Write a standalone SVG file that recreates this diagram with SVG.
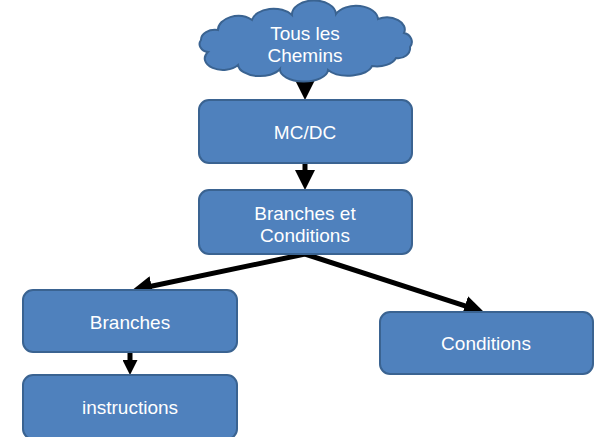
<svg xmlns="http://www.w3.org/2000/svg" width="601" height="437" viewBox="0 0 601 437">
<defs>
<style>
.box{fill:#4F81BD;stroke:#3A6391;stroke-width:2}
.t{font-family:"Liberation Sans",Arial,sans-serif;font-size:19px;fill:#fff;text-anchor:middle}
.c{stroke:#000;stroke-width:5;fill:none}
</style>
<marker id="ah" markerUnits="userSpaceOnUse" markerWidth="20" markerHeight="20" refX="9" refY="10" orient="auto"><path d="M0,0 L20,10 L0,20 Z" fill="#000"/></marker>
<marker id="ahs" markerUnits="userSpaceOnUse" markerWidth="15" markerHeight="15" refX="6" refY="7.5" orient="auto"><path d="M0,0 L15,7.5 L0,15 Z" fill="#000"/></marker>
</defs>
<rect width="601" height="437" fill="#fff"/>
<g id="connectors">
<path class="c" d="M305,72 L305,89" marker-end="url(#ah)"/>
<path class="c" d="M305,163 L305,179" marker-end="url(#ah)"/>
<path class="c" d="M305,254 L142.8,288" marker-end="url(#ah)"/>
<path class="c" d="M305,254 L473.5,308.6" marker-end="url(#ah)"/>
<path class="c" d="M130,352 L130,366" marker-end="url(#ahs)"/>
</g>
<g id="cloud">
<path class="box" d="M208,52 A10 8 0 0 1 201,40 A14 10 0 0 1 218,30 A20 14 0 0 1 252,20 A22 14 0 0 1 292,15 A22 14 0 0 1 336,14 A22 14 0 0 1 378,19 A18 12 0 0 1 404,33 A10 9 0 0 1 410,47 A12 10 0 0 1 396,58 A20 12 0 0 1 372,66 A24 12 0 0 1 328,70 A24 12 0 0 1 280,69 A22 12 0 0 1 238,65 A16 10 0 0 1 208,52 Z"/>
<text class="t" x="305" y="40">Tous les</text>
<text class="t" x="305" y="62">Chemins</text>
</g>
<g id="mcdc">
<rect class="box" x="199" y="100" width="213" height="63" rx="10"/>
<text class="t" x="305" y="139">MC/DC</text>
</g>
<g id="branches-conditions">
<rect class="box" x="199" y="190" width="213" height="64" rx="10"/>
<text class="t" x="305" y="220">Branches et</text>
<text class="t" x="305" y="242">Conditions</text>
</g>
<g id="branches">
<rect class="box" x="23" y="290" width="214" height="62" rx="10"/>
<text class="t" x="130" y="329">Branches</text>
</g>
<g id="instructions">
<rect class="box" x="23" y="375" width="214" height="64" rx="10"/>
<text class="t" x="130" y="414">instructions</text>
</g>
<g id="conditions">
<rect class="box" x="380" y="312" width="213" height="62" rx="10"/>
<text class="t" x="486" y="350">Conditions</text>
</g>
</svg>
